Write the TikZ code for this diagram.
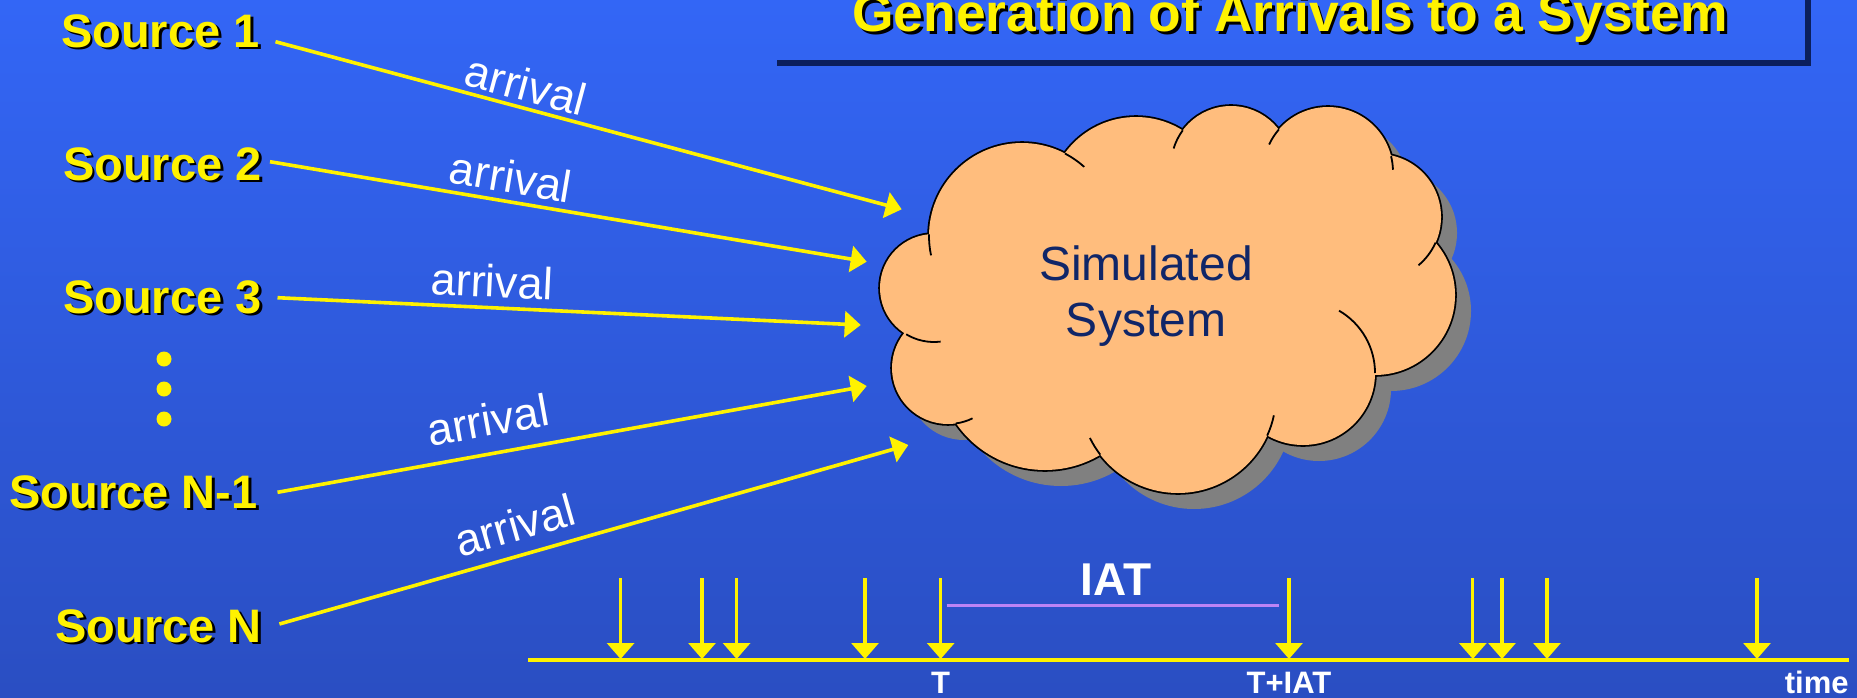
\documentclass[tikz,border=0pt]{standalone}
\usepackage{fontspec}
\setmainfont{Liberation Sans}
\usetikzlibrary{arrows.meta}

\definecolor{bgtop}{RGB}{51,102,246}
\definecolor{bgbot}{RGB}{42,78,194}
\definecolor{boxshadow}{RGB}{11,31,92}
\definecolor{cloudfill}{RGB}{255,189,125}
\definecolor{cloudshadow}{RGB}{128,128,128}
\definecolor{navytext}{RGB}{16,38,104}
\definecolor{iatcolor}{RGB}{188,132,246}

% yellow lettering with a black drop shadow
\newcommand{\dropshadow}[1]{\makebox[0pt][l]{\kern1.4pt\raisebox{-1.4pt}{\color{black}#1}}#1}

\tikzset{
  srclabel/.style={anchor=base east, inner sep=0pt, text=yellow,
    font=\fontsize{23.5pt}{28pt}\selectfont\bfseries},
  titletext/.style={anchor=base, inner sep=0pt, text=yellow,
    font=\fontsize{26.7pt}{30pt}\selectfont\bfseries},
  arrlabel/.style={inner sep=0pt, text=white,
    font=\fontsize{22.5pt}{26pt}\selectfont},
  cloudtext/.style={anchor=base, inner sep=0pt, text=navytext,
    font=\fontsize{24pt}{28pt}\selectfont},
  ticklabel/.style={anchor=base, inner sep=0pt, text=white,
    font=\fontsize{15.5pt}{18pt}\selectfont\bfseries},
  dotmark/.style={circle, fill=yellow, inner sep=0pt, minimum size=7.5pt},
  srcarrow/.style={yellow, line width=1.8pt, -{Triangle[length=8pt,width=13pt]}},
  tarrow/.style={yellow, line width=1.6pt, -{Triangle[length=8pt,width=13.5pt]}},
  axisline/.style={yellow, line width=2pt},
  iatline/.style={iatcolor, line width=1.1pt},
  cloudline/.style={black, line width=0.9pt},
}

\begin{document}
\begin{tikzpicture}[x=0.5pt,y=-0.5pt]
\useasboundingbox (0,0) rectangle (1857,697);
\shade[top color=bgtop,bottom color=bgbot] (0,0) rectangle (1857,697);

% title panel: only its dark drop shadow shows against the background
\fill[boxshadow] (777,60) rectangle (1811,66);
\fill[boxshadow] (1805,0) rectangle (1811,66);
\node[titletext] (title) at (1290,31.5) {\dropshadow{Generation of Arrivals to a System}};

% sources
\node[srclabel] (src1) at (260,47)  {\dropshadow{Source 1}};
\node[srclabel] (src2) at (262,180) {\dropshadow{Source 2}};
\node[srclabel] (src3) at (262,313) {\dropshadow{Source 3}};
\node[srclabel] (srcN1) at (258,508) {\dropshadow{Source N-1}};
\node[srclabel] (srcN) at (262,642) {\dropshadow{Source N}};
\node[dotmark] (dot1) at (164,359) {};
\node[dotmark] (dot2) at (164,389) {};
\node[dotmark] (dot3) at (164,419) {};

% cloud: drop shadow, outline, body
\def\cloudcircles{934/288/54, 948/368/56, 1045/362/108, 1178/395/98,
  1303/373/72, 1375/295/80, 1378/217/63, 1328/172/65, 1231/166/60,
  1136/205/88, 1022/236/93}
\begin{scope}[shift={(16,16)}]
  \foreach \cx/\cy/\r in \cloudcircles
    \fill[cloudshadow] (\cx,\cy) circle[radius=\r];
  \fill[cloudshadow] (1160,300) ellipse[x radius=220, y radius=130];
\end{scope}
\foreach \cx/\cy/\r in \cloudcircles
  \draw[black, line width=1.8pt] (\cx,\cy) circle[radius=\r];
\foreach \cx/\cy/\r in \cloudcircles
  \fill[cloudfill] (\cx,\cy) circle[radius=\r];
\fill[cloudfill] (1160,300) ellipse[x radius=220, y radius=130];
% short inner arcs where the puffs overlap
\foreach \cx/\cy/\r/\a/\b in {1022/236/93/181/168, 934/288/54/121/83,
  948/368/56/82/64, 1178/395/98/142.5/154, 1178/395/98/24.5/12,
  1303/373/72/0/-60, 1378/217/63/24/50, 1328/172/65/-14/-2,
  1328/172/65/221/205, 1231/166/60/216.5/197, 1022/236/93/-62.5/-48}
  \draw[cloudline] (\cx,\cy) ++(\a:\r) arc[start angle=\a, end angle=\b, radius=\r];
\node[cloudtext] (sim1) at (1146,280) {Simulated};
\node[cloudtext] (sim2) at (1146,336.7) {System};

% arrivals into the system
\coordinate (in1s) at (275.5,41.7);  \coordinate (in1e) at (901.7,209.3);
\coordinate (in2s) at (270,161.7);   \coordinate (in2e) at (866.7,261.7);
\coordinate (in3s) at (277.5,297.7); \coordinate (in3e) at (860.7,325);
\coordinate (in4s) at (277.5,492.3); \coordinate (in4e) at (866.7,386);
\coordinate (in5s) at (279.4,624);   \coordinate (in5e) at (908.3,445);
\foreach \k in {1,...,5} \draw[srcarrow] (in\k s) -- (in\k e);
\node[arrlabel, rotate=-15]  (arr1) at (526,85)  {arrival};
\node[arrlabel, rotate=-9.5] (arr2) at (511,177) {arrival};
\node[arrlabel, rotate=-2.7] (arr3) at (492,281) {arrival};
\node[arrlabel, rotate=10.2] (arr4) at (488,420) {arrival};
\node[arrlabel, rotate=15.9] (arr5) at (515,525) {arrival};

% time axis with arrival instants
\coordinate (axL) at (528,660);
\coordinate (axR) at (1849,660);
\draw[axisline] (axL) -- (axR);
\foreach \x [count=\i] in {620.6,702,736.6,865,940.7,1289,1472.8,1502,1547,1757} {
  \coordinate (tick\i) at (\x,578);
  \coordinate (hit\i) at (\x,659);
  \draw[tarrow] (tick\i) -- (hit\i);
}
\coordinate (iatL) at (946.7,605.5);
\coordinate (iatR) at (1279,605.5);
\draw[iatline] (iatL) -- (iatR);
\node[anchor=base, inner sep=0pt, text=white,
  font=\fontsize{23pt}{28pt}\selectfont\bfseries] (iat) at (1116,595.7) {IAT};
\node[ticklabel] (lblT) at (940.7,693.3) {T};
\node[ticklabel] (lblTI) at (1289,693.3) {T+IAT};
\node[ticklabel, anchor=base east] (lbltime) at (1849,693.3) {time};
\end{tikzpicture}
\end{document}
